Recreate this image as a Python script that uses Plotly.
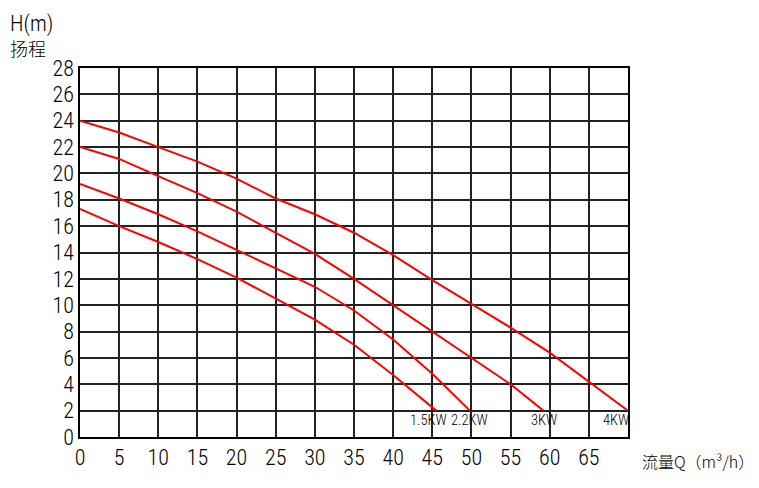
import plotly.graph_objects as go

q_4kw = [0, 5, 10, 15, 20, 25, 30, 35, 40, 45, 50, 55, 60, 65, 70]
h_4kw = [24, 23.1, 22.0, 20.9, 19.6, 18.1, 16.9, 15.5, 13.8, 11.9, 10.1, 8.3, 6.4, 4.2, 2.0]
q_3kw = [0, 5, 10, 15, 20, 25, 30, 35, 40, 45, 50, 55, 59.2]
h_3kw = [22, 21.1, 19.8, 18.5, 17.1, 15.5, 13.9, 12.0, 10.0, 8.0, 6.0, 4.0, 2.0]
q_22kw = [0, 5, 10, 15, 20, 25, 30, 35, 40, 45, 49.8]
h_22kw = [19.2, 18.1, 16.9, 15.6, 14.2, 12.8, 11.4, 9.6, 7.4, 4.8, 2.0]
q_15kw = [0, 5, 10, 15, 20, 25, 30, 35, 40, 45.5]
h_15kw = [17.3, 16.0, 14.8, 13.5, 12.1, 10.5, 8.9, 7.0, 4.7, 2.0]

series_names = ["1.5KW", "2.2KW", "3KW", "4KW"]
label_q = [46.8, 52.0, 60.8, 70.0]
label_h = 1.25

x_ticks = list(range(0, 70, 5))
y_ticks = list(range(0, 29, 2))

FONT = "Roboto Condensed"

fig = go.Figure()
for q, h, n in [(q_15kw, h_15kw, "1.5KW"), (q_22kw, h_22kw, "2.2KW"),
                (q_3kw, h_3kw, "3KW"), (q_4kw, h_4kw, "4KW")]:
    fig.add_trace(go.Scatter(x=q, y=h, mode="lines", name=n,
                             line=dict(color="#ff0000", width=2), showlegend=False))

for name, q in zip(series_names, label_q):
    fig.add_annotation(x=q, y=label_h, xref="x", yref="y", text=name, showarrow=False,
                       xanchor="right", yanchor="middle", xshift=3,
                       font=dict(family=FONT, size=14.5, color="black", weight=300))

axis_common = dict(showgrid=True, gridcolor="#222222", gridwidth=1.5,
                   showline=True, linecolor="black", linewidth=1.5, mirror=True,
                   ticks="", zeroline=False,
                   tickfont=dict(family=FONT, size=22, color="black", weight=300))

fig.update_layout(
    width=751, height=480,
    margin=dict(l=72, r=131, t=60, b=51),
    plot_bgcolor="white", paper_bgcolor="white",
    font=dict(family=FONT, color="black", size=21),
    xaxis=dict(range=[0, 70], tickvals=x_ticks, ticktext=[str(v) for v in x_ticks], **axis_common),
    yaxis=dict(range=[0, 28], tickvals=y_ticks, ticktext=[str(v) for v in y_ticks], **axis_common),
)

fig.add_annotation(x=-72 / 548, y=1 + 44 / 369, xref="paper", yref="paper", text="H(m)",
                   showarrow=False, xanchor="left", yanchor="middle",
                   font=dict(family=FONT, size=22, color="black", weight=300))
fig.add_annotation(x=-72 / 548, y=1 + 20 / 369, xref="paper", yref="paper", text="扬程",
                   showarrow=False, xanchor="left", yanchor="middle",
                   font=dict(family="Noto Sans CJK SC", size=18, color="black", weight=300))
fig.add_annotation(x=1 + 12 / 548, y=-24 / 369, xref="paper", yref="paper", text="流量Q（m³/h）",
                   showarrow=False, xanchor="left", yanchor="middle",
                   font=dict(family="Noto Sans CJK SC", size=16, color="black", weight=300))

fig.write_html("out.html")
